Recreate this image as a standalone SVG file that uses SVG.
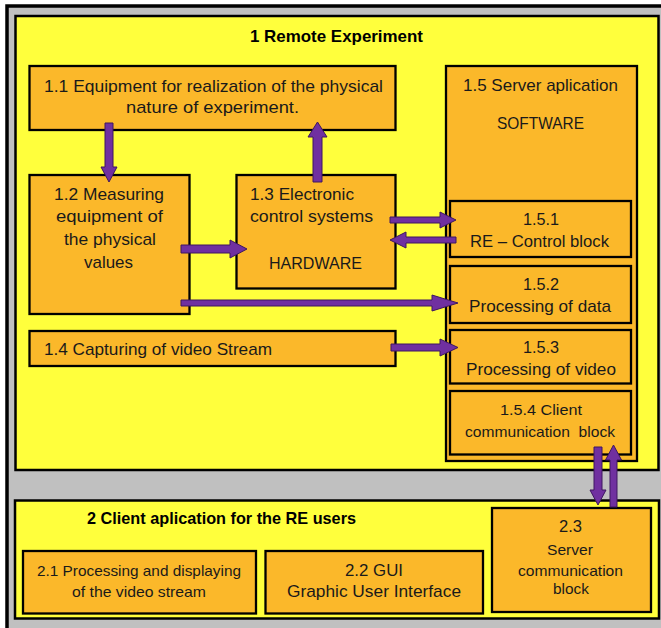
<svg xmlns="http://www.w3.org/2000/svg" width="661" height="628" viewBox="0 0 661 628">
  <style>
    .frame { fill: #C0C0C0; stroke: #000; stroke-width: 3.5; }
    .area { fill: #FFFF3C; stroke: #000; stroke-width: 2.5; }
    .box { fill: #FBB82A; stroke: #000; stroke-width: 2.3; }
    .arrow { fill: #7030A0; stroke: #3E1760; stroke-width: 1; }
    text { font-family: "Liberation Sans", Arial, sans-serif; font-size: 17px; fill: #1A1A1A; }
    .small { font-size: 15px; }
    .title { font-weight: bold; font-size: 17px; fill: #000; }
  </style>
  <defs>
    <clipPath id="clip153"><rect x="451" y="331" width="179" height="47"/></clipPath>
  </defs>

  <!-- outer frame -->
  <rect class="frame" x="7" y="6" width="690" height="650"/>

  <!-- 1 Remote Experiment area -->
  <g id="area1">
    <rect class="area" x="15.5" y="16" width="643" height="454"/>
    <text class="title" x="250" y="42" textLength="173" lengthAdjust="spacingAndGlyphs">1 Remote Experiment</text>
  </g>

  <g id="n1_1">
    <rect class="box" x="29.5" y="66" width="366" height="64"/>
    <text x="44" y="91.5" textLength="339" lengthAdjust="spacingAndGlyphs">1.1 Equipment for realization of the physical</text>
    <text x="126" y="112.5" textLength="173" lengthAdjust="spacingAndGlyphs">nature of experiment.</text>
  </g>

  <g id="n1_2">
    <rect class="box" x="29.5" y="175" width="160" height="139"/>
    <text x="54" y="199.5" textLength="110" lengthAdjust="spacingAndGlyphs">1.2 Measuring</text>
    <text x="56" y="222" textLength="107" lengthAdjust="spacingAndGlyphs">equipment of</text>
    <text x="64" y="245" textLength="92" lengthAdjust="spacingAndGlyphs">the physical</text>
    <text x="84" y="268" textLength="49" lengthAdjust="spacingAndGlyphs">values</text>
  </g>

  <g id="n1_3">
    <rect class="box" x="236.5" y="175" width="159" height="113.5"/>
    <text x="250" y="199.5" textLength="104" lengthAdjust="spacingAndGlyphs">1.3 Electronic</text>
    <text x="250" y="222" textLength="123" lengthAdjust="spacingAndGlyphs">control systems</text>
    <text x="269" y="269" textLength="93" lengthAdjust="spacingAndGlyphs">HARDWARE</text>
  </g>

  <g id="n1_4">
    <rect class="box" x="29.5" y="331" width="366" height="35"/>
    <text x="44" y="355" textLength="228" lengthAdjust="spacingAndGlyphs">1.4 Capturing of video Stream</text>
  </g>

  <g id="n1_5">
    <rect class="box" x="446" y="66" width="191" height="395"/>
    <text x="463" y="91" textLength="155" lengthAdjust="spacingAndGlyphs">1.5 Server aplication</text>
    <text x="497" y="129" textLength="87" lengthAdjust="spacingAndGlyphs">SOFTWARE</text>
  </g>

  <g id="n1_5_1">
    <rect class="box" x="450" y="201" width="181" height="56"/>
    <text x="523" y="225" textLength="36" lengthAdjust="spacingAndGlyphs">1.5.1</text>
    <text x="470" y="247" textLength="139" lengthAdjust="spacingAndGlyphs">RE – Control block</text>
  </g>

  <g id="n1_5_2">
    <rect class="box" x="450" y="266" width="181" height="57"/>
    <text x="523" y="290" textLength="36" lengthAdjust="spacingAndGlyphs">1.5.2</text>
    <text x="469" y="312" textLength="142" lengthAdjust="spacingAndGlyphs">Processing of data</text>
  </g>

  <g id="n1_5_3">
    <rect class="box" x="450" y="330" width="181" height="53.5"/>
    <text x="523" y="353" textLength="36" lengthAdjust="spacingAndGlyphs">1.5.3</text>
    <text x="466" y="375" textLength="150" lengthAdjust="spacingAndGlyphs" clip-path="url(#clip153)">Processing of video</text>
  </g>

  <g id="n1_5_4">
    <rect class="box" x="450" y="391" width="181" height="63.5"/>
    <text class="small" x="500" y="415" textLength="82" lengthAdjust="spacingAndGlyphs">1.5.4 Client</text>
    <text class="small" x="465" y="437" textLength="150" lengthAdjust="spacingAndGlyphs" xml:space="preserve">communication  block</text>
  </g>

  <!-- 2 Client application area -->
  <g id="area2">
    <rect class="area" x="15" y="500.5" width="644" height="118"/>
    <text class="title" x="87" y="523.5" textLength="269" lengthAdjust="spacingAndGlyphs">2 Client aplication for the RE users</text>
  </g>

  <g id="n2_1">
    <rect class="box" x="23" y="551" width="233" height="62.5"/>
    <text class="small" x="37" y="576" textLength="204" lengthAdjust="spacingAndGlyphs">2.1 Processing and displaying</text>
    <text class="small" x="72" y="597" textLength="134" lengthAdjust="spacingAndGlyphs">of the video stream</text>
  </g>

  <g id="n2_2">
    <rect class="box" x="265.5" y="551" width="217.5" height="62.5"/>
    <text x="345" y="575.5" textLength="58" lengthAdjust="spacingAndGlyphs">2.2 GUI</text>
    <text x="287" y="597" textLength="174" lengthAdjust="spacingAndGlyphs">Graphic User Interface</text>
  </g>

  <g id="n2_3">
    <rect class="box" x="492" y="508" width="159" height="104"/>
    <text x="559" y="532" textLength="23" lengthAdjust="spacingAndGlyphs">2.3</text>
    <text class="small" x="547" y="555" textLength="46" lengthAdjust="spacingAndGlyphs">Server</text>
    <text class="small" x="518" y="575.5" textLength="105" lengthAdjust="spacingAndGlyphs">communication</text>
    <text class="small" x="553" y="594" textLength="36" lengthAdjust="spacingAndGlyphs">block</text>
  </g>

  <!-- block arrows -->
  <g id="connectors">
    <polygon class="arrow" points="105,123 113,123 113,167 117,167 109,182 101,167 105,167"/>
    <polygon class="arrow" points="313,182 322,182 322,137 327,137 317.5,122 308,137 313,137"/>
    <polygon class="arrow" points="181,245 230,245 230,240 247,249 230,258 230,253 181,253"/>
    <polygon class="arrow" points="181,300 432,300 432,295 458,303 432,311 432,306 181,306"/>
    <polygon class="arrow" points="390,217 440,217 440,212 456,220 440,228 440,223 390,223"/>
    <polygon class="arrow" points="456,237 406,237 406,232 390,240 406,248 406,243 456,243"/>
    <polygon class="arrow" points="391,344 440,344 440,339 458,347.5 440,356 440,351 391,351"/>
    <polygon class="arrow" points="594,447 602,447 602,490 606,490 598,505 590,490 594,490"/>
    <polygon class="arrow" points="610,507 617,507 617,460 621.5,460 613.5,445 605.5,460 610,460"/>
  </g>
</svg>
